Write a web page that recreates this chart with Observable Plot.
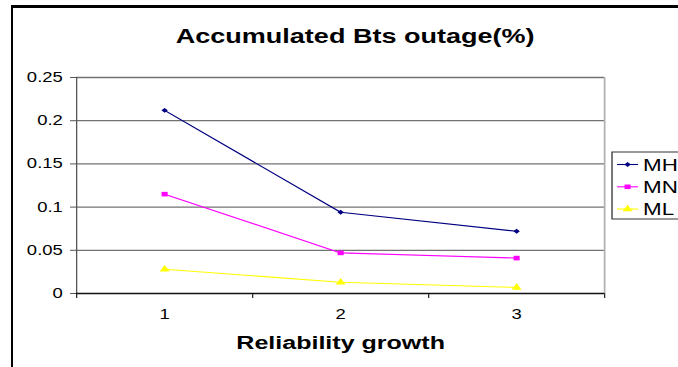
<!DOCTYPE html>
<html>
<head>
<meta charset="utf-8">
<script src="https://cdn.jsdelivr.net/npm/d3@7"></script>
<script src="https://cdn.jsdelivr.net/npm/@observablehq/plot@0.6"></script>
<style>
  html, body { margin: 0; padding: 0; background: #fff; }
  #wrap { position: relative; width: 678px; height: 367px; overflow: hidden; }
  #border {
    position: absolute; left: 11px; top: 5px; width: 2000px; height: 2000px;
    border-top: 3px solid #000; border-left: 2.5px solid #000; pointer-events: none;
  }
  svg { display: block; }
</style>
</head>
<body>
<div id="wrap"><div id="border"></div></div>
<script>
// Reliability growth stages and the accumulated BTS outage of each scenario
const categories = [1, 2, 3];
const xTickLabels = ["1", "2", "3"];
const xTickBounds = [0.5, 1.5, 2.5, 3.5];
const seriesNames = ["MH", "MN", "ML"];
const mhValues = [0.212, 0.094, 0.072];
const mnValues = [0.115, 0.047, 0.041];
const mlValues = [0.028, 0.013, 0.007];
const seriesColors = ["#000080", "#ff00ff", "#ffff00"];
const seriesSymbols = ["diamond2", "square", "triangle"];
const yTicks = [0, 0.05, 0.1, 0.15, 0.2, 0.25];
const yTickLabels = ["0", "0.05", "0.1", "0.15", "0.2", "0.25"];
const chartTitle = "Accumulated Bts outage(%)";
const xTitle = "Reliability growth";

const seriesValues = [mhValues, mnValues, mlValues];
const rows = seriesNames.flatMap((name, s) =>
  categories.map((c, i) => ({series: name, x: c, y: seriesValues[s][i]}))
);

// The chart is laid out in a narrower frame and widened horizontally on screen
const OUT_W = 678, H = 367, STRETCH = 1.319;
const W = OUT_W / STRETCH;
const font = "'Liberation Sans', Arial, sans-serif";

const chart = Plot.plot({
  width: W,
  height: H,
  marginLeft: 57.6,
  marginRight: W - 457.9,
  marginTop: 77,
  marginBottom: 74,
  style: {fontFamily: font, color: "#000", background: "transparent", overflow: "visible"},
  x: {domain: [0.5, 3.5]},
  y: {domain: [0, 0.25]},
  color: {domain: seriesNames, range: seriesColors},
  symbol: {domain: seriesNames, range: seriesSymbols},
  marks: [
    Plot.ruleY(yTicks.filter(d => d > 0), {stroke: "#727272", strokeWidth: 1.3}),
    Plot.ruleX([3.5], {y1: 0, y2: 0.25, stroke: "#b0b0b0", strokeWidth: 1.3}),
    Plot.ruleX([0.5], {y1: 0, y2: 0.25, stroke: "#555", strokeWidth: 1}),
    Plot.axisY({ticks: yTicks, tickFormat: (d, i) => yTickLabels[i], tickSize: 4.5, tickPadding: 6,
                fontSize: 14, label: null, stroke: "#555"}),
    Plot.axisX({ticks: xTickBounds, tickFormat: () => "", tickSize: 5, label: null, stroke: "#333"}),
    Plot.axisX({ticks: categories, tickFormat: (d, i) => xTickLabels[i], tickSize: 0, tickPadding: 16,
                fontSize: 14, label: null}),
    Plot.ruleY([0], {stroke: "#111", strokeWidth: 1.3}),
    Plot.line(rows, {x: "x", y: "y", z: "series", stroke: "series", strokeWidth: 1.1}),
    Plot.dot(rows.filter(d => d.series === "MH"), {x: "x", y: "y", symbol: "series", fill: "series", r: 2.2}),
    Plot.dot(rows.filter(d => d.series === "MN"), {x: "x", y: "y", symbol: "series", fill: "series", r: 2.6}),
    Plot.dot(rows.filter(d => d.series === "ML"), {x: "x", y: "y", symbol: "series", fill: "series", r: 2.8}),
    Plot.text([chartTitle], {frameAnchor: "top", dy: -41, dx: 11, fontSize: 20.5, fontWeight: "bold",
                             lineAnchor: "middle", fill: "#000"}),
    Plot.text([xTitle], {frameAnchor: "bottom", dy: 49.5, fontSize: 19, fontWeight: "bold",
                         lineAnchor: "middle", fill: "#000"})
  ]
});

// Legend: boxed list of line-and-marker swatches to the right of the plot
const svg = d3.select(chart);
const lg = svg.append("g").attr("font-family", font).attr("text-anchor", "start");
const lgX = 464, lgTop = 152, lgBottom = 219, rowY = [164.5, 186.8, 209];
lg.append("rect")
  .attr("x", lgX).attr("y", lgTop).attr("width", 200).attr("height", lgBottom - lgTop)
  .attr("fill", "#fff").attr("stroke", "#333").attr("stroke-width", 1);
seriesNames.forEach((name, i) => {
  const g = lg.append("g");
  g.append("line")
    .attr("x1", 467.8).attr("x2", 483.7).attr("y1", rowY[i]).attr("y2", rowY[i])
    .attr("stroke", seriesColors[i]).attr("stroke-width", 1.1);
  const sym = {diamond2: d3.symbolDiamond2, square: d3.symbolSquare, triangle: d3.symbolTriangle}[seriesSymbols[i]];
  const r = [2.2, 2.6, 2.8][i];
  g.append("path")
    .attr("transform", `translate(475.8,${rowY[i]})`)
    .attr("d", d3.symbol(sym, Math.PI * r * r)())
    .attr("fill", seriesColors[i]);
  g.append("text")
    .attr("x", 487.5).attr("y", rowY[i]).attr("dy", "0.36em")
    .attr("text-anchor", "start")
    .attr("font-size", 17).attr("fill", "#000")
    .text(name);
});

// Widen horizontally to the final page width
chart.setAttribute("viewBox", `0 0 ${W} ${H}`);
chart.setAttribute("width", OUT_W);
chart.setAttribute("height", H);
chart.setAttribute("preserveAspectRatio", "none");
chart.style.width = OUT_W + "px";
chart.style.height = H + "px";
chart.style.maxWidth = "none";

document.getElementById("wrap").prepend(chart);
</script>
</body>
</html>
